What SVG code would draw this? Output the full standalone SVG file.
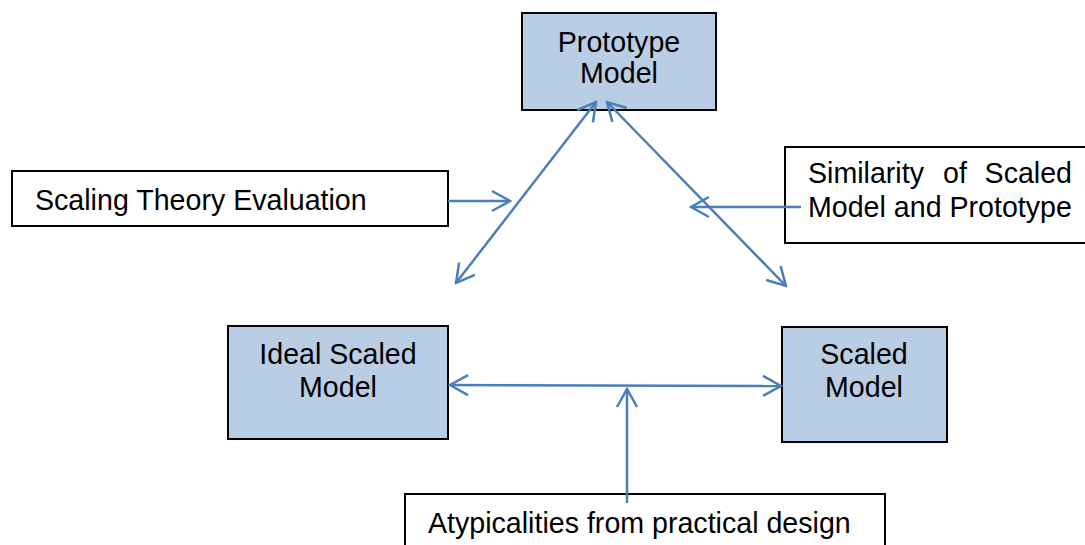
<svg xmlns="http://www.w3.org/2000/svg" width="1085" height="545" viewBox="0 0 1085 545">
  <style>
    .node { fill: #b9cde5; stroke: #000; stroke-width: 2; }
    .note { fill: #fff; stroke: #000; stroke-width: 2; }
    .label { font-family: "Liberation Sans", Arial, sans-serif; font-size: 28.6px; fill: #000; }
    .mid { text-anchor: middle; }
    .link { stroke: #4a7ebb; stroke-width: 2.5; fill: none; }
  </style>
  <defs>
    <marker id="open-arrow" viewBox="0 0 22 24" refX="20" refY="12" markerWidth="22" markerHeight="24" markerUnits="userSpaceOnUse" orient="auto-start-reverse">
      <path d="M2,2 L20,12 L2,22" fill="none" stroke="#4a7ebb" stroke-width="2.5"/>
    </marker>
  </defs>

  <rect width="1085" height="545" fill="#fff"/>

  <g id="prototype-model">
    <rect class="node" x="522" y="13" width="194" height="97"/>
    <text class="label mid" x="619" y="52">Prototype</text>
    <text class="label mid" x="619" y="83">Model</text>
  </g>

  <g id="scaling-theory-evaluation">
    <rect class="note" x="12" y="171" width="436" height="55"/>
    <text class="label" x="35" y="210">Scaling Theory Evaluation</text>
  </g>

  <g id="similarity">
    <rect class="note" x="785" y="147" width="310" height="96"/>
    <text class="label" y="183"><tspan x="808">Similarity</tspan><tspan x="943">of</tspan><tspan x="1072" text-anchor="end">Scaled</tspan></text>
    <text class="label" x="808" y="216.5">Model and Prototype</text>
  </g>

  <g id="ideal-scaled-model">
    <rect class="node" x="228" y="326" width="220" height="113"/>
    <text class="label mid" x="338" y="364">Ideal Scaled</text>
    <text class="label mid" x="338" y="397">Model</text>
  </g>

  <g id="scaled-model">
    <rect class="node" x="782" y="327" width="165" height="115"/>
    <text class="label mid" x="864" y="364">Scaled</text>
    <text class="label mid" x="864" y="397">Model</text>
  </g>

  <g id="atypicalities">
    <rect class="note" x="405" y="494" width="480" height="70"/>
    <text class="label" x="428" y="533">Atypicalities from practical design</text>
  </g>

  <g id="connectors">
    <line class="link" x1="596" y1="102" x2="456" y2="283" marker-start="url(#open-arrow)" marker-end="url(#open-arrow)"/>
    <line class="link" x1="607" y1="102" x2="786" y2="286" marker-start="url(#open-arrow)" marker-end="url(#open-arrow)"/>
    <line class="link" x1="448" y1="201" x2="510" y2="201" marker-end="url(#open-arrow)"/>
    <line class="link" x1="801" y1="207" x2="691" y2="207" marker-end="url(#open-arrow)"/>
    <line class="link" x1="450" y1="385" x2="781" y2="386" marker-start="url(#open-arrow)" marker-end="url(#open-arrow)"/>
    <line class="link" x1="627" y1="503" x2="627" y2="389" marker-end="url(#open-arrow)"/>
  </g>
</svg>
